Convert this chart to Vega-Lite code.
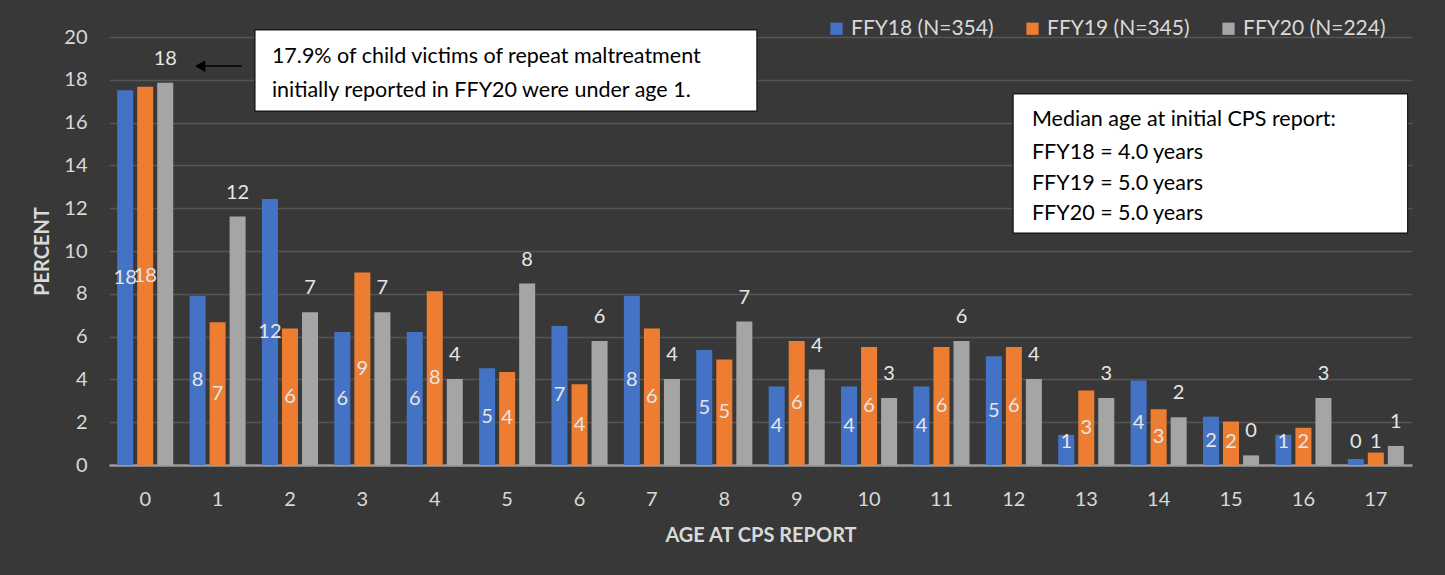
{
  "$schema": "https://vega.github.io/schema/vega-lite/v6.json",
  "width": 1303,
  "height": 428,
  "autosize": "none",
  "padding": {"left": 109, "top": 37, "right": 33, "bottom": 110},
  "background": "#383838",
  "config": {
    "font": "Lato",
    "view": {"stroke": null},
    "axis": {"labelFont": "Lato", "titleFont": "Lato"}
  },
  "resolve": {"scale": {"x": "independent"}},
  "layer": [
    {
      "data": {
        "values": [
          {"age": 0, "year": "FFY18 (N=354)", "pct": 17.51},
          {"age": 1, "year": "FFY18 (N=354)", "pct": 7.91},
          {"age": 2, "year": "FFY18 (N=354)", "pct": 12.43},
          {"age": 3, "year": "FFY18 (N=354)", "pct": 6.21},
          {"age": 4, "year": "FFY18 (N=354)", "pct": 6.21},
          {"age": 5, "year": "FFY18 (N=354)", "pct": 4.52},
          {"age": 6, "year": "FFY18 (N=354)", "pct": 6.5},
          {"age": 7, "year": "FFY18 (N=354)", "pct": 7.91},
          {"age": 8, "year": "FFY18 (N=354)", "pct": 5.37},
          {"age": 9, "year": "FFY18 (N=354)", "pct": 3.67},
          {"age": 10, "year": "FFY18 (N=354)", "pct": 3.67},
          {"age": 11, "year": "FFY18 (N=354)", "pct": 3.67},
          {"age": 12, "year": "FFY18 (N=354)", "pct": 5.08},
          {"age": 13, "year": "FFY18 (N=354)", "pct": 1.41},
          {"age": 14, "year": "FFY18 (N=354)", "pct": 3.95},
          {"age": 15, "year": "FFY18 (N=354)", "pct": 2.26},
          {"age": 16, "year": "FFY18 (N=354)", "pct": 1.41},
          {"age": 17, "year": "FFY18 (N=354)", "pct": 0.28},
          {"age": 0, "year": "FFY19 (N=345)", "pct": 17.68},
          {"age": 1, "year": "FFY19 (N=345)", "pct": 6.67},
          {"age": 2, "year": "FFY19 (N=345)", "pct": 6.38},
          {"age": 3, "year": "FFY19 (N=345)", "pct": 8.99},
          {"age": 4, "year": "FFY19 (N=345)", "pct": 8.12},
          {"age": 5, "year": "FFY19 (N=345)", "pct": 4.35},
          {"age": 6, "year": "FFY19 (N=345)", "pct": 3.77},
          {"age": 7, "year": "FFY19 (N=345)", "pct": 6.38},
          {"age": 8, "year": "FFY19 (N=345)", "pct": 4.93},
          {"age": 9, "year": "FFY19 (N=345)", "pct": 5.8},
          {"age": 10, "year": "FFY19 (N=345)", "pct": 5.51},
          {"age": 11, "year": "FFY19 (N=345)", "pct": 5.51},
          {"age": 12, "year": "FFY19 (N=345)", "pct": 5.51},
          {"age": 13, "year": "FFY19 (N=345)", "pct": 3.48},
          {"age": 14, "year": "FFY19 (N=345)", "pct": 2.61},
          {"age": 15, "year": "FFY19 (N=345)", "pct": 2.03},
          {"age": 16, "year": "FFY19 (N=345)", "pct": 1.74},
          {"age": 17, "year": "FFY19 (N=345)", "pct": 0.58},
          {"age": 0, "year": "FFY20 (N=224)", "pct": 17.86},
          {"age": 1, "year": "FFY20 (N=224)", "pct": 11.61},
          {"age": 2, "year": "FFY20 (N=224)", "pct": 7.14},
          {"age": 3, "year": "FFY20 (N=224)", "pct": 7.14},
          {"age": 4, "year": "FFY20 (N=224)", "pct": 4.02},
          {"age": 5, "year": "FFY20 (N=224)", "pct": 8.48},
          {"age": 6, "year": "FFY20 (N=224)", "pct": 5.8},
          {"age": 7, "year": "FFY20 (N=224)", "pct": 4.02},
          {"age": 8, "year": "FFY20 (N=224)", "pct": 6.7},
          {"age": 9, "year": "FFY20 (N=224)", "pct": 4.46},
          {"age": 10, "year": "FFY20 (N=224)", "pct": 3.13},
          {"age": 11, "year": "FFY20 (N=224)", "pct": 5.8},
          {"age": 12, "year": "FFY20 (N=224)", "pct": 4.02},
          {"age": 13, "year": "FFY20 (N=224)", "pct": 3.13},
          {"age": 14, "year": "FFY20 (N=224)", "pct": 2.23},
          {"age": 15, "year": "FFY20 (N=224)", "pct": 0.45},
          {"age": 16, "year": "FFY20 (N=224)", "pct": 3.13},
          {"age": 17, "year": "FFY20 (N=224)", "pct": 0.89}
        ]
      },
      "encoding": {
        "x": {
          "field": "age",
          "type": "ordinal",
          "scale": {"paddingInner": 0.17, "paddingOuter": 0.085},
          "axis": {
            "title": "AGE AT CPS REPORT",
            "titleFontSize": 20,
            "titleFontWeight": "bold",
            "titleColor": "#d9d9d9",
            "titlePadding": 16,
            "labelAngle": 0,
            "labelFontSize": 20,
            "labelColor": "#d9d9d9",
            "labelPadding": 24,
            "ticks": false,
            "domainColor": "#9a9a9a",
            "domainWidth": 2.5,
            "grid": false
          }
        },
        "xOffset": {
          "field": "year",
          "type": "nominal",
          "scale": {"paddingInner": 0.2, "paddingOuter": 0.1}
        },
        "y": {
          "field": "pct",
          "type": "quantitative",
          "scale": {"domain": [0, 20]},
          "axis": {
            "title": "PERCENT",
            "titleFontSize": 20,
            "titleFontWeight": "bold",
            "titleColor": "#d9d9d9",
            "titlePadding": 11,
            "values": [0, 2, 4, 6, 8, 10, 12, 14, 16, 18, 20],
            "labelFontSize": 20,
            "labelColor": "#d9d9d9",
            "labelPadding": 22,
            "ticks": false,
            "domain": false,
            "gridColor": "#555555",
            "gridWidth": 1.5
          }
        }
      },
      "layer": [
        {
          "mark": {"type": "bar"},
          "encoding": {
            "color": {
              "field": "year",
              "type": "nominal",
              "scale": {
                "domain": ["FFY18 (N=354)", "FFY19 (N=345)", "FFY20 (N=224)"],
                "range": ["#4472C4", "#ED7D31", "#A5A5A5"]
              },
              "legend": {
                "title": null,
                "orient": "none",
                "legendX": 717,
                "legendY": -19,
                "direction": "horizontal",
                "symbolType": "square",
                "symbolSize": 150,
                "symbolStrokeWidth": 0,
                "labelFontSize": 21,
                "labelColor": "#d9d9d9",
                "labelOffset": 4,
                "columnPadding": 28
              }
            }
          }
        },
        {
          "transform": [
            {"filter": "datum.year != 'FFY20 (N=224)'"},
            {"calculate": "max(datum.pct / 2, 1.07)", "as": "labelPos"}
          ],
          "mark": {"type": "text", "baseline": "middle", "align": "center", "fontSize": 20, "color": "#e6e6e6"},
          "encoding": {
            "y": {"field": "labelPos", "type": "quantitative"},
            "text": {"field": "pct", "type": "quantitative", "format": ".0f"}
          }
        },
        {
          "transform": [{"filter": "datum.year == 'FFY20 (N=224)'"}],
          "mark": {"type": "text", "baseline": "middle", "align": "center", "fontSize": 20, "color": "#e6e6e6", "dy": -24},
          "encoding": {
            "text": {"field": "pct", "type": "quantitative", "format": ".0f"}
          }
        }
      ]
    },
    {
      "layer": [
        {
          "data": {
            "values": [
              {"x1": 2.017, "x2": 8.95, "y1": 20.33, "y2": 16.54},
              {"x1": 12.49, "x2": 17.94, "y1": 17.34, "y2": 10.84}
            ]
          },
          "mark": {"type": "rect", "fill": "#ffffff", "stroke": "#000000", "strokeWidth": 1},
          "encoding": {
            "x": {"field": "x1", "type": "quantitative", "scale": {"domain": [0, 18]}, "axis": null},
            "x2": {"field": "x2"},
            "y": {"field": "y1", "type": "quantitative"},
            "y2": {"field": "y2"}
          }
        },
        {
          "data": {
            "values": [
              {"x": 2.25, "y": 19.07, "label": "17.9% of child victims of repeat maltreatment"},
              {"x": 2.25, "y": 17.48, "label": "initially reported in FFY20 were under age 1."},
              {"x": 12.75, "y": 16.12, "label": "Median age at initial CPS report:"},
              {"x": 12.75, "y": 14.58, "label": "FFY18 = 4.0 years"},
              {"x": 12.75, "y": 13.13, "label": "FFY19 = 5.0 years"},
              {"x": 12.75, "y": 11.73, "label": "FFY20 = 5.0 years"}
            ]
          },
          "mark": {"type": "text", "align": "left", "baseline": "middle", "fontSize": 21.5, "color": "#000000"},
          "encoding": {
            "x": {"field": "x", "type": "quantitative", "scale": {"domain": [0, 18]}, "axis": null},
            "y": {"field": "y", "type": "quantitative"},
            "text": {"field": "label"}
          }
        },
        {
          "data": {"values": [{"x1": 1.837, "x2": 1.3, "y": 18.64}]},
          "mark": {"type": "rule", "color": "#000000", "strokeWidth": 1.5},
          "encoding": {
            "x": {"field": "x1", "type": "quantitative", "scale": {"domain": [0, 18]}, "axis": null},
            "x2": {"field": "x2"},
            "y": {"field": "y", "type": "quantitative"}
          }
        },
        {
          "data": {"values": [{"x": 1.26, "y": 18.64}]},
          "mark": {"type": "point", "shape": "triangle-left", "filled": true, "color": "#000000", "size": 140, "opacity": 1},
          "encoding": {
            "x": {"field": "x", "type": "quantitative", "scale": {"domain": [0, 18]}, "axis": null},
            "y": {"field": "y", "type": "quantitative"}
          }
        }
      ]
    }
  ]
}
